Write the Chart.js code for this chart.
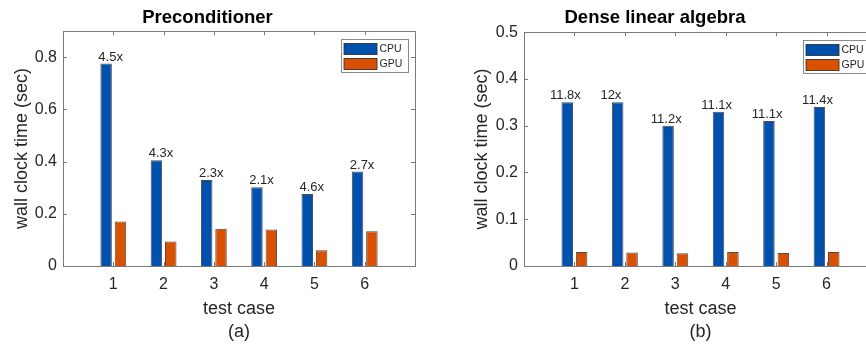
<!DOCTYPE html>
<html>
<head>
<meta charset="utf-8">
<script src="https://cdn.jsdelivr.net/npm/chart.js@4.4.1/dist/chart.umd.min.js"></script>
<style>
html, body { margin: 0; padding: 0; background: #fff; overflow: hidden; width: 866px; height: 344px; }
#boxA { position: absolute; left: 0; top: 0; width: 433px; height: 344px; }
#boxB { position: absolute; left: 433px; top: 0; width: 462px; height: 344px; }
</style>
</head>
<body>
<div id="boxA"><canvas id="precondChart"></canvas></div>
<div id="boxB"><canvas id="denseChart"></canvas></div>
<script>
// test cases on the x axis
const testCases = [1, 2, 3, 4, 5, 6];

// (a) preconditioner timings, seconds
const precondCpu = [0.776, 0.405, 0.330, 0.302, 0.276, 0.362];
const precondGpu = [0.171, 0.094, 0.143, 0.140, 0.060, 0.133];
const precondSpeedup = ['4.5x', '4.3x', '2.3x', '2.1x', '4.6x', '2.7x'];
const precondTicks = [0, 0.2, 0.4, 0.6, 0.8];

// (b) dense linear algebra timings, seconds
const denseCpu = [0.350, 0.350, 0.300, 0.330, 0.310, 0.340];
const denseGpu = [0.0297, 0.029, 0.027, 0.0297, 0.028, 0.030];
const denseSpeedup = ['11.8x', '12x', '11.2x', '11.1x', '11.1x', '11.4x'];
const denseTicks = [0, 0.1, 0.2, 0.3, 0.4, 0.5];

const cpuColor = '#0050ad';
const gpuColor = '#d95000';
const edgeColor = 'rgba(45,45,45,0.85)';
const textColor = '#262626';
const axisColor = '#7a7a7a';
const fontFamily = 'Arial, "Liberation Sans", Helvetica, sans-serif';

// box around the axes with inward tick marks (matlab style)
const framePlugin = {
    id: 'frame',
    afterDatasetsDraw(chart) {
        const {ctx, chartArea: a, scales} = chart;
        const len = 4;
        ctx.save();
        ctx.strokeStyle = axisColor;
        ctx.lineWidth = 1;
        ctx.strokeRect(Math.round(a.left) + 0.5, Math.round(a.top) + 0.5,
            Math.round(a.right - a.left), Math.round(a.bottom - a.top));
        ctx.beginPath();
        scales.x.ticks.forEach(t => {
            const x = Math.round(scales.x.getPixelForValue(t.value)) + 0.5;
            ctx.moveTo(x, a.bottom); ctx.lineTo(x, a.bottom - len);
            ctx.moveTo(x, a.top); ctx.lineTo(x, a.top + len);
        });
        scales.y.ticks.forEach(t => {
            const y = Math.round(scales.y.getPixelForValue(t.value)) + 0.5;
            ctx.moveTo(a.left, y); ctx.lineTo(a.left + len, y);
            ctx.moveTo(a.right, y); ctx.lineTo(a.right - len, y);
        });
        ctx.stroke();
        ctx.restore();
    }
};

// speedup text above the CPU bars
const speedupPlugin = {
    id: 'speedup',
    afterDatasetsDraw(chart, args, opts) {
        const {ctx} = chart;
        const meta = chart.getDatasetMeta(0);
        ctx.save();
        ctx.font = '13px ' + fontFamily;
        ctx.fillStyle = textColor;
        ctx.textAlign = 'left';
        ctx.textBaseline = 'alphabetic';
        meta.data.forEach((bar, i) => {
            const left = bar.x - bar.width / 2;
            ctx.fillText(opts.labels[i], left + opts.shift, bar.y - 3);
        });
        ctx.restore();
    }
};

// small boxed legend in the upper right corner of the axes
const boxLegendPlugin = {
    id: 'boxLegend',
    afterDraw(chart) {
        const {ctx, chartArea: a} = chart;
        const w = 67, h = 33;
        const x0 = Math.round(a.right - 7 - w) + 0.5;
        const y0 = Math.round(a.top + 8) + 0.5;
        ctx.save();
        ctx.fillStyle = '#fff';
        ctx.fillRect(x0, y0, w, h);
        ctx.strokeStyle = '#8a8a8a';
        ctx.lineWidth = 1;
        ctx.strokeRect(x0, y0, w, h);
        ctx.font = '10.5px ' + fontFamily;
        ctx.textBaseline = 'middle';
        chart.data.datasets.forEach((ds, i) => {
            const sy = y0 + 4 + i * 15;
            ctx.fillStyle = ds.backgroundColor;
            ctx.fillRect(x0 + 2.5, sy, 33, 11);
            ctx.strokeStyle = edgeColor;
            ctx.strokeRect(x0 + 2.5, sy, 33, 11);
            ctx.fillStyle = textColor;
            ctx.fillText(ds.label, x0 + 38, sy + 6);
        });
        ctx.restore();
    }
};

function makeChart(id, opt) {
    const toPoints = vals => vals.map((v, i) => ({x: testCases[i], y: v}));
    return new Chart(document.getElementById(id), {
        type: 'bar',
        data: {
            datasets: [{
                label: 'CPU',
                data: toPoints(opt.cpu),
                backgroundColor: cpuColor,
                borderColor: edgeColor,
                borderWidth: 1,
                categoryPercentage: 0.571,
                barPercentage: 0.8
            }, {
                label: 'GPU',
                data: toPoints(opt.gpu),
                backgroundColor: gpuColor,
                borderColor: edgeColor,
                borderWidth: 1,
                categoryPercentage: 0.571,
                barPercentage: 0.8
            }]
        },
        options: {
            responsive: true,
            maintainAspectRatio: false,
            animation: false,
            layout: {padding: {left: 0, right: 18, top: 0, bottom: 0}},
            plugins: {
                legend: {display: false},
                tooltip: {enabled: false},
                title: {
                    display: true,
                    text: opt.title,
                    color: '#000',
                    font: {family: fontFamily, size: 18.5, weight: 'bold'},
                    padding: {top: 7, bottom: opt.titleGap}
                },
                speedup: {labels: opt.speedup, shift: opt.labelShift}
            },
            scales: {
                x: {
                    type: 'linear',
                    min: 0,
                    max: 7,
                    offset: false,
                    grid: {display: false, drawTicks: false},
                    border: {display: false},
                    afterBuildTicks: s => { s.ticks = testCases.map(v => ({value: v})); },
                    afterFit: s => { s.height = 78; },
                    ticks: {
                        color: textColor,
                        padding: 9,
                        font: {family: fontFamily, size: 16}
                    },
                    title: {
                        display: true,
                        text: ['test case', opt.panel],
                        color: textColor,
                        font: {family: fontFamily, size: 18, lineHeight: 1.3},
                        padding: {top: 0, bottom: 0}
                    }
                },
                y: {
                    min: 0,
                    max: opt.yMax,
                    grid: {display: false, drawTicks: false},
                    border: {display: false},
                    afterBuildTicks: s => { s.ticks = opt.yTicks.map(v => ({value: v})); },
                    afterFit: s => { s.width = opt.yWidth; },
                    ticks: {
                        color: textColor,
                        padding: 6,
                        font: {family: fontFamily, size: 16}
                    },
                    title: {
                        display: true,
                        text: 'wall clock time (sec)',
                        color: textColor,
                        font: {family: fontFamily, size: 18},
                        padding: {top: opt.yTitlePad, bottom: 0}
                    }
                }
            }
        },
        plugins: [framePlugin, speedupPlugin, boxLegendPlugin]
    });
}

makeChart('precondChart', {
    title: 'Preconditioner',
    panel: '(a)',
    cpu: precondCpu,
    gpu: precondGpu,
    speedup: precondSpeedup,
    yTicks: precondTicks,
    yMax: 0.9,
    yWidth: 63,
    yTitlePad: 11,
    titleGap: 2,
    labelShift: -2
});

makeChart('denseChart', {
    title: 'Dense linear algebra',
    panel: '(b)',
    cpu: denseCpu,
    gpu: denseGpu,
    speedup: denseSpeedup,
    yTicks: denseTicks,
    yMax: 0.5,
    yWidth: 91,
    yTitlePad: 38,
    titleGap: 3,
    labelShift: -11.5
});
</script>
</body>
</html>
